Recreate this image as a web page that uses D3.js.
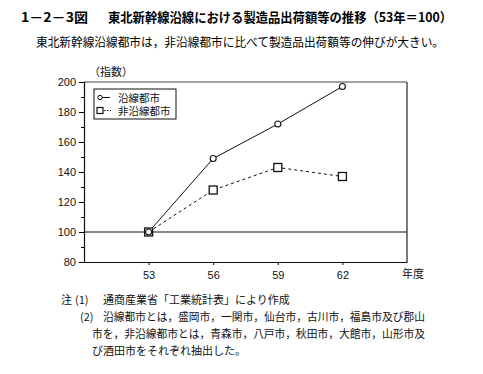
<!DOCTYPE html>
<html>
<head>
<meta charset="utf-8">
<script src="https://cdn.jsdelivr.net/npm/d3@7/dist/d3.min.js"></script>
<style>
  body { margin: 0; background: #fff; }
  svg { display: block; font-family: "Noto Sans CJK JP", "Noto Sans", sans-serif; }
</style>
</head>
<body>
<div id="chart"></div>
<script>
// data
const years = [53, 56, 59, 62];
const ensen = [100, 149, 172, 197];      // 沿線都市
const hiEnsen = [100, 128, 143, 137];    // 非沿線都市
const yTicks = [80, 100, 120, 140, 160, 180, 200];
const seriesNames = ['沿線都市', '非沿線都市'];
const notes = [
    '通商産業省「工業統計表」により作成',
    '沿線都市とは，盛岡市，一関市，仙台市，古川市，福島市及び郡山',
    '市を，非沿線都市とは，青森市，八戸市，秋田市，大館市，山形市及',
    'び酒田市をそれぞれ抽出した。'
];

const W = 483, H = 374;
const plot = {left: 84, right: 407, top: 82, bottom: 262};

const svg = d3.select('#chart').append('svg')
    .attr('width', W).attr('height', H);

// titles
svg.append('text').attr('x', 21).attr('y', 22)
    .attr('font-size', 13).attr('font-weight', 'bold')
    .attr('textLength', 67).attr('lengthAdjust', 'spacingAndGlyphs')
    .text('1－2－3図');
svg.append('text').attr('x', 108).attr('y', 22)
    .attr('font-size', 13).attr('font-weight', 'bold')
    .attr('textLength', 344).attr('lengthAdjust', 'spacingAndGlyphs')
    .text('東北新幹線沿線における製造品出荷額等の推移（53年＝100）');
svg.append('text').attr('x', 36).attr('y', 47)
    .attr('font-size', 12)
    .attr('textLength', 408).attr('lengthAdjust', 'spacingAndGlyphs')
    .text('東北新幹線沿線都市は，非沿線都市に比べて製造品出荷額等の伸びが大きい。');

// scales
const x = d3.scaleLinear().domain([50, 65]).range([plot.left, plot.right]);
const y = d3.scaleLinear().domain([80, 200]).range([plot.bottom, plot.top]);

const g = svg.append('g');

// frame
g.append('line').attr('x1', plot.left).attr('x2', plot.right)
    .attr('y1', plot.top).attr('y2', plot.top)
    .attr('stroke', '#444').attr('stroke-width', 1);
g.append('line').attr('x1', plot.right).attr('x2', plot.right)
    .attr('y1', plot.top).attr('y2', plot.bottom)
    .attr('stroke', '#222').attr('stroke-width', 1.2);

// y axis
const yAxis = g.append('g').attr('transform', `translate(${plot.left},0)`)
    .call(d3.axisLeft(y).tickValues(yTicks).tickSize(5).tickPadding(3));
g.append('g').attr('transform', `translate(${plot.left},0)`)
    .call(d3.axisLeft(y).tickValues(d3.range(90, 200, 20)).tickSize(3).tickFormat(''))
    .select('.domain').remove();
yAxis.selectAll('text').attr('font-size', 11).attr('fill', '#111')
    .attr('font-family', '"Liberation Sans", sans-serif');
yAxis.select('.domain').attr('stroke', '#111').attr('stroke-width', 1.2);

// x axis
const xAxis = g.append('g').attr('transform', `translate(0,${plot.bottom})`)
    .call(d3.axisBottom(x).tickValues(years).tickSize(3).tickPadding(6).tickSizeOuter(0));
xAxis.selectAll('text').attr('font-size', 11).attr('fill', '#111')
    .attr('font-family', '"Liberation Sans", sans-serif');
xAxis.select('.domain').attr('stroke', '#111').attr('stroke-width', 1.2);

svg.append('text').attr('x', 402).attr('y', 278)
    .attr('font-size', 11).attr('fill', '#111').text('年度');
svg.append('text').attr('x', 89).attr('y', 76)
    .attr('font-size', 11).attr('fill', '#111').text('（指数）');

// base line at 100
g.append('line').attr('x1', plot.left).attr('x2', plot.right)
    .attr('y1', y(100)).attr('y2', y(100))
    .attr('stroke', '#111').attr('stroke-width', 1.2);

// lines
const line = d3.line().x((d, i) => x(years[i])).y(d => y(d));
g.append('path').datum(hiEnsen).attr('d', line)
    .attr('fill', 'none').attr('stroke', '#111').attr('stroke-width', 1)
    .attr('stroke-dasharray', '3,3');
g.append('path').datum(ensen).attr('d', line)
    .attr('fill', 'none').attr('stroke', '#111').attr('stroke-width', 1);

g.selectAll('rect.m').data(hiEnsen).enter().append('rect')
    .attr('x', (d, i) => x(years[i]) - 4).attr('y', d => y(d) - 4)
    .attr('width', 8).attr('height', 8)
    .attr('fill', '#fff').attr('stroke', '#111').attr('stroke-width', 1.3);
g.selectAll('circle.m').data(ensen).enter().append('circle')
    .attr('cx', (d, i) => x(years[i])).attr('cy', d => y(d)).attr('r', 3)
    .attr('fill', '#fff').attr('stroke', '#111').attr('stroke-width', 1.1);

// legend
const lg = svg.append('g');
lg.append('rect').attr('x', 94).attr('y', 89).attr('width', 82).attr('height', 30)
    .attr('fill', '#fff').attr('stroke', '#111').attr('stroke-width', 1);
lg.append('circle').attr('cx', 100).attr('cy', 97.5).attr('r', 2.2)
    .attr('fill', '#fff').attr('stroke', '#111');
lg.append('line').attr('x1', 102).attr('x2', 110).attr('y1', 97.5).attr('y2', 97.5)
    .attr('stroke', '#111');
lg.append('rect').attr('x', 97).attr('y', 107.5).attr('width', 6).attr('height', 6)
    .attr('fill', '#fff').attr('stroke', '#111').attr('stroke-width', 1.2);
lg.append('line').attr('x1', 104).attr('x2', 111).attr('y1', 110.5).attr('y2', 110.5)
    .attr('stroke', '#111').attr('stroke-dasharray', '1.5,1.5');
lg.selectAll('text').data(seriesNames).enter().append('text')
    .attr('x', 118).attr('y', (d, i) => 101.5 + i * 13.5)
    .attr('font-size', 10.5).attr('fill', '#111').text(d => d);

// notes
const nt = svg.append('g').attr('font-size', 11).attr('fill', '#111');
nt.append('text').attr('x', 61).attr('y', 304).text('注');
nt.append('text').attr('x', 75).attr('y', 304).text('(1)');
nt.append('text').attr('x', 80).attr('y', 321).text('(2)');
nt.selectAll('text.n').data(notes).enter().append('text')
    .attr('x', (d, i) => i < 2 ? 103 : 92)
    .attr('y', (d, i) => 304 + i * 17)
    .attr('textLength', (d, i) => i === 1 ? 322 : (i === 2 ? 333 : null))
    .attr('lengthAdjust', 'spacingAndGlyphs')
    .text(d => d);
</script>
</body>
</html>
